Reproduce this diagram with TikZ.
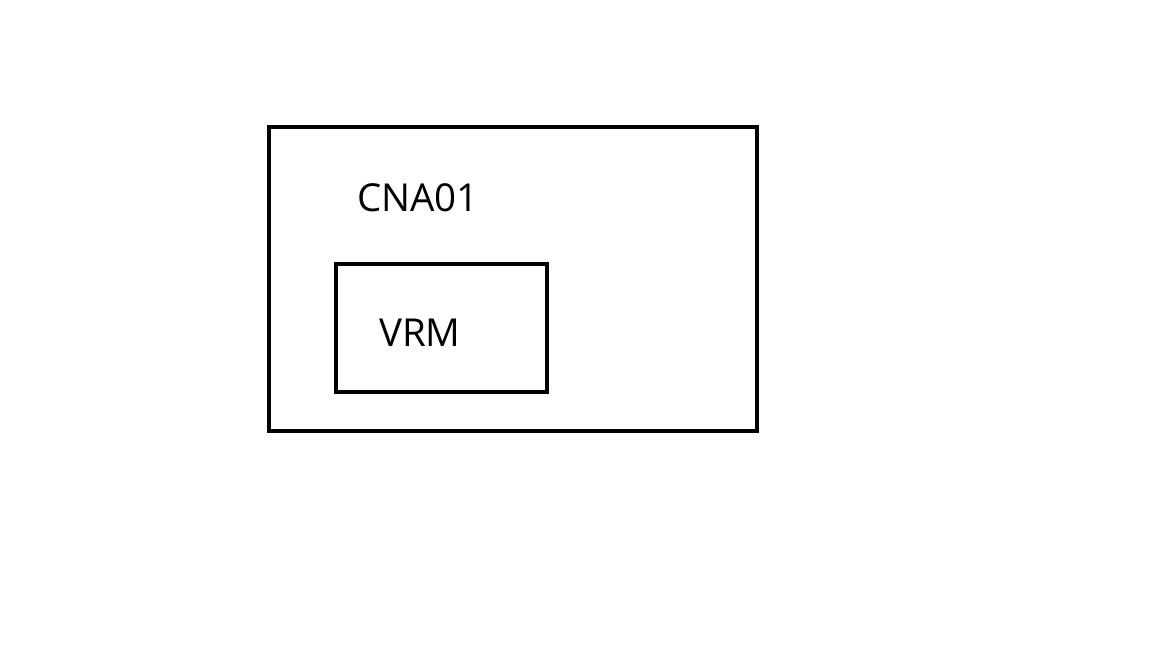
\documentclass[tikz,border=0pt]{standalone}
\usepackage{fontspec}
\setmainfont{Open Sans}
\begin{document}
\begin{tikzpicture}[x=1pt,y=-1pt,
  box/.style={draw=black,line width=4pt,fill=none,rectangle,inner sep=0pt,outer sep=0pt,anchor=north west},
  lbl/.style={font=\fontsize{38.5}{42}\selectfont,inner sep=0pt,anchor=base west}]
\useasboundingbox (0,0) rectangle (1152,648);
\node[box,minimum width=488pt,minimum height=304pt] (outer) at (269,127) {};
\node[box,minimum width=211pt,minimum height=128pt] (vrmbox) at (336,264) {};
\node[lbl] (cna) at (357,211) {CNA01};
\node[lbl] (vrm) at (379,346) {VRM};
\end{tikzpicture}
\end{document}
